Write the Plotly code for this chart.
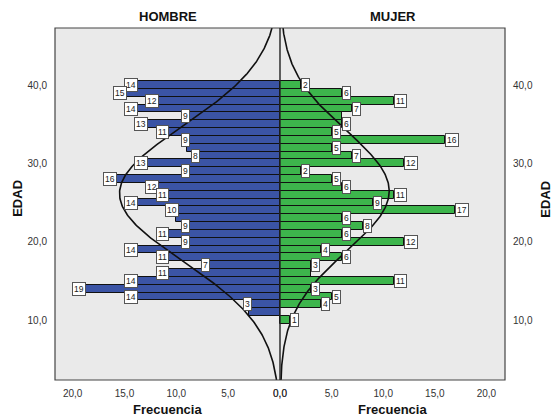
import numpy as np
import plotly.graph_objects as go

# ---------------- data ----------------
ages = list(range(40, 9, -1))  # 40 ... 10
hombre = [14, 15, 12, 14, 9, 13, 11, 9, 9, 8, 13, 9, 16, 12, 11, 14, 10, 10, 9, 11,
          9, 14, 11, 7, 11, 14, 19, 14, 3, 3, 0]
mujer = [2, 6, 11, 7, 6, 6, 5, 16, 5, 7, 12, 2, 5, 6, 11, 9, 17, 6, 8, 6,
         12, 4, 6, 3, 3, 11, 3, 5, 4, 0, 1]
# data labels as displayed (overlapping ones are hidden in the original)
hombre_labels = ["14", "15", "12", "14", "9", "13", "11", "9", "", "8", "13", "9", "16", "12",
                 "11", "14", "10", "", "9", "11", "9", "14", "11", "7", "11", "14", "19", "14",
                 "3", "", ""]
mujer_labels = ["2", "6", "11", "7", "", "6", "5", "16", "5", "7", "12", "2", "5", "6", "11",
                "9", "17", "6", "8", "6", "12", "4", "6", "3", "", "11", "3", "5", "4", "", "1"]
panel_titles = ["HOMBRE", "MUJER"]
x_title = "Frecuencia"
y_title = "EDAD"
x_ticks = [0, 5, 10, 15, 20]
y_ticks = [10, 20, 30, 40]

BLUE = "#3B54A5"
GREEN = "#3DB54C"
FONT = "Liberation Sans"


def normal_curve(a, c, grid):
    a = np.asarray(a, float)
    c = np.asarray(c, float)
    n = c.sum()
    mu = (a * c).sum() / n
    sd = np.sqrt((c * (a - mu) ** 2).sum() / (n - 1))
    return n * np.exp(-0.5 * ((grid - mu) / sd) ** 2) / (sd * np.sqrt(2 * np.pi))


grid = np.linspace(0, 50, 400)

fig = go.Figure()
fig.add_trace(go.Bar(y=ages, x=hombre, orientation="h", width=1,
                     marker=dict(color=BLUE, line=dict(color="#111", width=1)),
                     xaxis="x", yaxis="y", showlegend=False, hoverinfo="skip"))
fig.add_trace(go.Bar(y=ages, x=mujer, orientation="h", width=1,
                     marker=dict(color=GREEN, line=dict(color="#111", width=1)),
                     xaxis="x2", yaxis="y2", showlegend=False, hoverinfo="skip"))
fig.add_trace(go.Scatter(x=normal_curve(ages, hombre, grid), y=grid, mode="lines",
                         line=dict(color="#111", width=1.6), xaxis="x", yaxis="y",
                         showlegend=False, hoverinfo="skip"))
fig.add_trace(go.Scatter(x=normal_curve(ages, mujer, grid), y=grid, mode="lines",
                         line=dict(color="#111", width=1.6), xaxis="x2", yaxis="y2",
                         showlegend=False, hoverinfo="skip"))

annotations = []
lab_style = dict(showarrow=False, font=dict(family=FONT, size=8.5, color="#222"),
                 bgcolor="white", bordercolor="#555", borderwidth=1, borderpad=1)
for a, v, t in zip(ages, hombre, hombre_labels):
    if t:
        annotations.append(dict(x=v, y=a, xref="x", yref="y", text=t, xanchor="right",
                                xshift=3, **lab_style))
for a, v, t in zip(ages, mujer, mujer_labels):
    if t:
        annotations.append(dict(x=v, y=a, xref="x2", yref="y2", text=t, xanchor="left",
                                xshift=0, **lab_style))

title_font = dict(family=FONT, size=13, color="#111")
for xp, t in zip([0.25, 0.75], panel_titles):
    annotations.append(dict(x=xp, y=1.034, xref="paper", yref="paper", text="<b>%s</b>" % t,
                            showarrow=False, font=title_font, xanchor="center", yanchor="middle"))
    annotations.append(dict(x=xp, y=-0.085, xref="paper", yref="paper", text="<b>%s</b>" % x_title,
                            showarrow=False, font=title_font, xanchor="center", yanchor="middle"))
annotations.append(dict(x=-0.082, y=0.515, xref="paper", yref="paper", text="<b>%s</b>" % y_title,
                        textangle=-90, showarrow=False, font=title_font,
                        xanchor="center", yanchor="middle"))
annotations.append(dict(x=1.091, y=0.515, xref="paper", yref="paper", text="<b>%s</b>" % y_title,
                        textangle=-90, showarrow=False, font=title_font,
                        xanchor="center", yanchor="middle"))

tick_font = dict(family=FONT, size=10, color="#333")
yr = [2.34, 47.28]
fig.update_layout(
    width=557, height=419,
    margin=dict(l=55, r=52, t=28, b=39),
    paper_bgcolor="white", plot_bgcolor="#EAEAEA",
    separators=",.",
    bargap=0,
    xaxis=dict(domain=[0, 0.5], range=[21.7, 0], tickvals=x_ticks, tickformat=".1f",
               showgrid=False, zeroline=False, showline=False, ticks="",
               tickfont=tick_font, anchor="y", ticklabelstandoff=6),
    xaxis2=dict(domain=[0.5, 1], range=[0, 21.8], tickvals=x_ticks, tickformat=".1f",
                showgrid=False, zeroline=False, showline=False, ticks="",
                tickfont=tick_font, anchor="y2", ticklabelstandoff=6),
    yaxis=dict(range=yr, tickvals=y_ticks, tickformat=".1f", showgrid=False, zeroline=False,
               showline=False, ticks="", tickfont=tick_font, anchor="x", side="left",
               ticklabelstandoff=7),
    yaxis2=dict(range=yr, tickvals=y_ticks, tickformat=".1f", showgrid=False, zeroline=False,
                showline=False, ticks="", tickfont=tick_font, anchor="x2", side="right",
                ticklabelstandoff=7),
    annotations=annotations,
    shapes=[
        dict(type="rect", xref="paper", yref="paper", x0=0, x1=1, y0=0, y1=1,
             line=dict(color="#444", width=1.2), layer="above"),
        dict(type="line", xref="paper", yref="paper", x0=0.5, x1=0.5, y0=0, y1=1,
             line=dict(color="#222", width=1.4), layer="above"),
    ],
)

fig.write_html("out.html", config={"displayModeBar": False},
               post_script="document.body.style.margin='0';document.body.style.overflow='hidden';")
